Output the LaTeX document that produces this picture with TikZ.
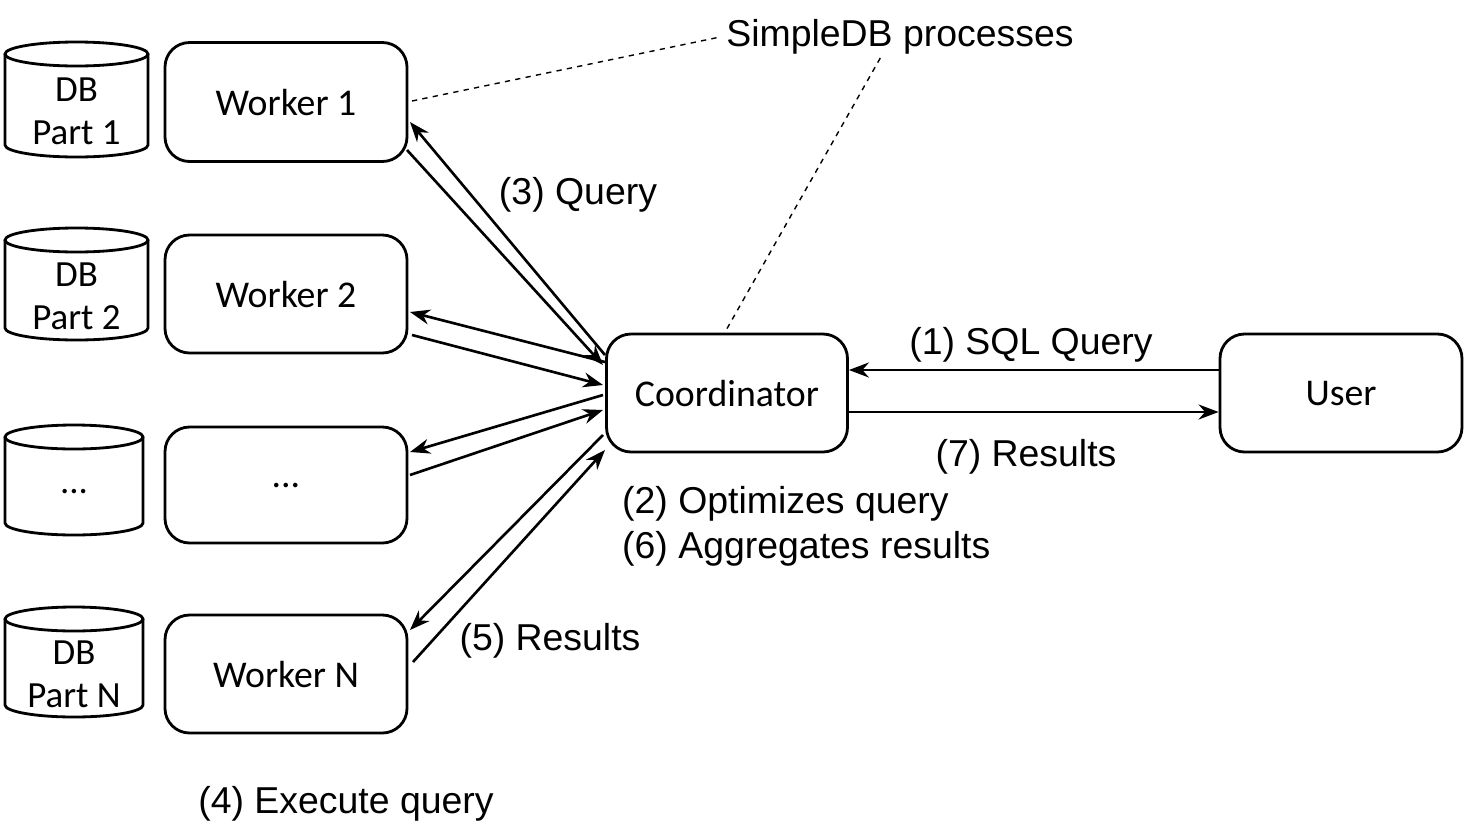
\documentclass[tikz,border=0pt]{standalone}
\usepackage{fontspec}
\setmainfont{Liberation Sans}
\newfontfamily\boxfont{Carlito}
\usetikzlibrary{arrows.meta}
\begin{document}
\begin{tikzpicture}[x=0.02cm,y=-0.02cm,
  box/.style={draw,line width=1.6pt,rounded corners=14pt,font=\boxfont\fontsize{21.5}{24}\selectfont,text depth=0pt},
  lbl/.style={font=\fontsize{21.3}{25}\selectfont,yshift=-0.08cm},
  arr/.style={line width=1.5pt,-{Stealth[length=4mm,width=3mm]}},
  dsh/.style={dashed,line width=0.8pt}]
\useasboundingbox (0,0) rectangle (1465,829);
% cylinders
\foreach \n/\x/\y/\w/\h/\t in {c1/5/42/143/115/{DB\\Part 1},c2/5/228/143/112/{DB\\Part 2},c3/5/425/138/110/{...},c4/5/607/138/110/{DB\\Part N}}{
  \draw[line width=1.6pt] (\x,\y+12) -- (\x,\y+\h-12) arc[start angle=180,end angle=0,x radius=\w/2,y radius=12] -- (\x+\w,\y+12);
  \draw[line width=1.6pt] (\x+\w/2,\y+12) ellipse[x radius=\w/2,y radius=12];
  \node[align=center,font=\boxfont\fontsize{21}{24.4}\selectfont] (\n) at (\x+\w/2,\y+\h/2+12) {\t};
}
\node[box,minimum width=242*0.02cm,minimum height=119*0.02cm] (w1) at (286,102) {Worker 1};
\node[box,minimum width=242*0.02cm,minimum height=118*0.02cm] (w2) at (286,294) {Worker 2};
\node[box,minimum width=242*0.02cm,minimum height=116*0.02cm] (w3) at (286,485) {...};
\node[box,minimum width=242*0.02cm,minimum height=118*0.02cm] (w4) at (286,674) {Worker N};
\node[box,minimum width=241*0.02cm,minimum height=118*0.02cm] (co) at (727,393) {Coordinator};
\node[box,minimum width=242*0.02cm,minimum height=118*0.02cm] (us) at (1341,393) {User};
% arrows
\draw[arr] (us.west|-0,370) -- (co.east|-0,370);
\draw[arr] (co.east|-0,412) -- (us.west|-0,412);
\coordinate (a1) at (605,355); \coordinate (b1) at (410,122);
\coordinate (a2) at (407,150); \coordinate (b2) at (603,365);
\draw[arr] (a1) -- (b1); \draw[arr] (a2) -- (b2);
\coordinate (a3) at (605,362); \coordinate (b3) at (410,312);
\coordinate (a4) at (412,335); \coordinate (b4) at (603,385);
\draw[arr] (a3) -- (b3); \draw[arr] (a4) -- (b4);
\coordinate (a5) at (603,395); \coordinate (b5) at (410,452);
\coordinate (a6) at (410,475); \coordinate (b6) at (603,410);
\draw[arr] (a5) -- (b5); \draw[arr] (a6) -- (b6);
\coordinate (a7) at (603,435); \coordinate (b7) at (410,630);
\coordinate (a8) at (413,662); \coordinate (b8) at (605,450);
\draw[arr] (a7) -- (b7); \draw[arr] (a8) -- (b8);
% labels
\node[lbl] (sp) at (900,33) {SimpleDB processes};
\draw[dsh] (412,101) -- (sp.west);
\draw[dsh] (co.north) ++(0,-4) -- (882,55);
\node[lbl] at (578,191) {(3) Query};
\node[lbl] at (1031,341) {(1) SQL Query};
\node[lbl] at (1026,453) {(7) Results};
\node[lbl,anchor=west] at (616,500) {(2) Optimizes query};
\node[lbl,anchor=west] at (616,545) {(6) Aggregates results};
\node[lbl] at (550,637) {(5) Results};
\node[lbl] at (346,800) {(4) Execute query};
\end{tikzpicture}
\end{document}
